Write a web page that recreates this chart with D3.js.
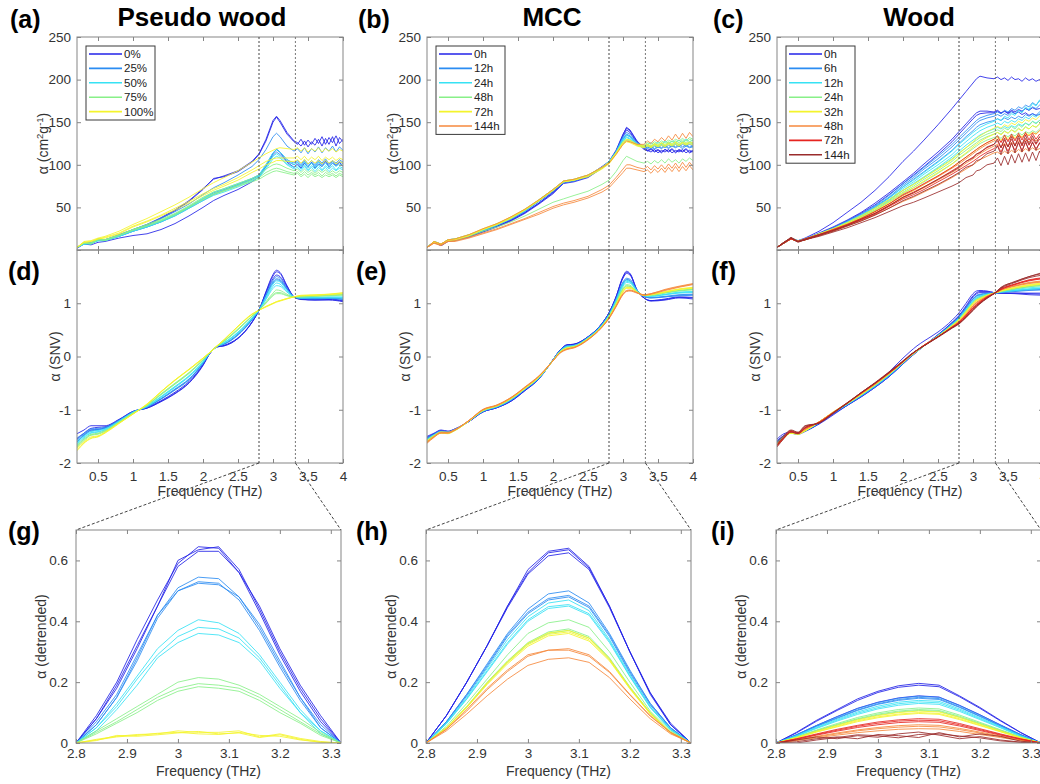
<!DOCTYPE html>
<html>
<head>
<meta charset="utf-8">
<script src="https://cdn.jsdelivr.net/npm/d3@7"></script>
<style>
  body { margin: 0; background: #fff; }
  svg { display: block; }
</style>
</head>
<body>
<svg id="fig" width="1040" height="784"></svg>
<script>
// frequency grids (THz)
var F_TOP = [0.2,0.3,0.4,0.5,0.6,0.8,1.0,1.2,1.4,1.6,1.8,2.0,2.15,2.3,2.5,2.7,2.8,2.9,3.0,3.05,3.1,3.2,3.3,
  3.35,3.4,3.45,3.5,3.55,3.6,3.65,3.7,3.75,3.8,3.85,3.9,3.95,4.0];
var F_MID = [0.2,0.3,0.4,0.5,0.6,0.8,1.0,1.2,1.4,1.6,1.8,2.0,2.1,2.2,2.3,2.5,2.7,2.8,2.9,3.0,3.05,3.1,3.2,3.3,3.4,3.6,3.8,4.0];
var F_BOT = [2.8,2.84,2.88,2.92,2.96,3.0,3.04,3.08,3.12,3.16,3.2,3.24,3.28,3.32];

var pwGroups = ['0%','25%','50%','75%','100%'];
var mccGroups = ['0h','12h','24h','48h','72h','144h'];
var woodGroups = ['0h','6h','12h','24h','32h','48h','72h','144h'];

// absorption coefficient, cm2/g  (3 replicates per group)
var pwTop = [
  [[3,8,7,12,11,17,23,29,37,46,57,71,84,86,92,103,112,128,150,156,150,136,127, 124,130,123,129,124,131,125,133,124,132,126,134,125,130],
   [3,9,8,13,12,18,24,30,38,47,58,72,83,87,93,104,113,130,152,157,152,138,128, 126,122,128,121,127,123,130,122,131,124,133,122,132,127],
   [2,7,6,9,10,14,17,19,24,31,40,50,58,64,71,80,86,98,113,118,115,103,97, 101,96,102,97,103,96,101,98,104,97,102,99,103,98]],
  [[3,8,9,12,12,17,24,30,37,45,54,65,73,79,88,98,106,118,133,137,133,122,116, 119,114,120,113,119,115,121,114,120,116,122,115,121,117],
   [3,7,8,11,12,16,22,27,33,41,50,60,67,71,77,84,88,100,114,118,115,106,102, 105,100,106,101,105,100,106,102,107,101,105,102,106,103],
   [3,8,7,12,11,16,22,27,33,40,49,58,65,70,76,83,87,98,111,115,112,104,100, 103,98,104,99,103,98,104,100,105,99,104,100,104,101]],
  [[3,8,8,12,12,17,23,28,34,42,51,61,68,72,78,84,88,100,114,118,115,106,100, 103,98,103,97,102,97,103,98,102,97,102,98,101,99],
   [3,7,8,11,11,16,23,28,34,41,50,60,66,70,76,82,86,97,110,113,110,101,97, 99,95,100,94,99,95,100,94,99,95,99,94,98,96],
   [3,7,7,11,11,16,22,27,33,40,49,58,64,68,74,81,85,95,107,110,108,100,95, 97,93,98,93,97,92,97,93,97,92,96,93,96,94]],
  [[3,9,8,13,12,18,24,30,36,43,52,62,68,72,78,84,88,95,100,101,100,96,93, 95,91,95,91,94,90,94,91,94,90,93,90,93,91],
   [3,8,8,12,12,17,24,29,35,42,51,60,66,70,76,82,85,91,95,96,95,92,90, 92,88,92,88,91,88,91,87,91,88,90,87,90,88],
   [3,8,7,12,11,17,23,28,34,41,50,59,65,69,75,80,83,88,92,93,92,90,88, 90,86,89,85,89,86,88,85,88,86,88,85,88,86]],
  [[3,10,11,14,16,22,30,37,45,53,62,72,79,85,93,103,108,113,117,119,120,119,118, 120,116,120,115,119,116,120,115,119,116,119,115,118,116],
   [3,9,10,13,15,20,28,34,41,49,57,66,72,77,85,94,99,104,107,108,108,108,108, 110,106,110,105,109,106,110,105,109,106,109,105,108,106],
   [3,9,10,13,14,19,27,33,40,47,55,64,70,75,82,91,95,100,103,105,105,104,104, 106,102,106,101,105,102,105,101,105,102,105,101,104,102]]
];
var mccTop = [
  [[3,10,5,11,12,16,22,28,35,44,55,67,79,81,86,97,103,116,135,144,141,128,120, 117,119,116,118,115,118,116,119,115,118,116,119,115,117],
   [3,9,6,11,12,16,22,28,35,44,55,68,80,82,87,98,104,117,136,143,140,127,119, 116,118,115,117,114,118,115,118,114,117,115,118,114,116],
   [3,10,5,10,11,15,21,27,34,43,54,66,78,80,85,96,102,115,133,141,138,126,118, 117,115,118,114,117,115,118,114,117,115,118,114,117,115]],
  [[3,9,6,12,12,17,23,29,37,46,57,69,80,82,87,97,104,116,133,138,136,126,121, 120,122,119,122,120,123,120,123,121,124,121,123,121,122],
   [3,10,7,12,13,17,23,30,37,46,58,70,80,82,87,97,103,115,131,136,134,125,120, 119,121,118,121,119,122,119,122,120,122,119,122,120,121],
   [3,9,6,11,12,17,23,29,36,45,57,69,79,81,86,96,102,114,130,135,133,124,120, 121,119,122,120,123,120,123,121,124,121,124,122,124,122]],
  [[3,10,7,12,13,18,24,30,38,47,59,71,81,83,88,97,104,115,131,135,133,125,122, 124,126,123,127,124,128,125,128,126,129,126,130,127,129],
   [3,9,6,12,12,17,24,30,37,47,58,70,80,82,87,97,103,114,129,133,131,124,121, 123,121,124,122,125,122,126,123,126,124,127,124,127,125],
   [3,10,7,11,12,17,23,29,37,46,58,70,80,82,87,96,102,114,128,132,130,123,120, 122,120,123,121,124,121,125,122,125,122,126,123,126,124]],
  [[3,10,7,12,13,18,24,31,38,48,59,71,81,83,88,97,103,114,127,130,129,124,123, 126,124,127,125,128,126,129,127,130,128,131,128,132,130],
   [3,9,6,12,12,17,24,30,38,47,58,70,80,82,87,96,102,113,126,129,128,123,122, 124,122,125,123,126,124,127,125,128,126,129,126,130,128],
   [3,9,6,11,11,16,22,27,33,40,48,56,60,64,69,77,82,92,105,110,108,104,102, 104,101,105,102,106,102,107,103,106,102,107,104,108,105]],
  [[3,10,7,12,13,18,25,31,39,48,59,71,81,83,88,97,103,114,127,130,129,124,122, 124,122,125,123,126,123,126,124,127,124,127,125,127,126],
   [3,9,7,12,12,17,24,30,38,47,58,70,80,82,87,96,102,113,125,128,127,123,121, 123,121,124,122,125,122,125,123,126,123,126,124,126,125],
   [3,10,6,11,12,17,24,30,37,47,58,70,80,82,86,95,101,112,124,127,126,122,120, 122,120,123,121,123,121,124,122,124,122,125,123,125,123]],
  [[3,10,7,12,13,18,25,31,39,48,59,71,81,83,88,97,102,112,124,128,127,124,124, 128,125,130,127,132,128,134,129,136,130,137,131,138,133],
   [3,8,6,10,11,15,20,25,31,37,44,51,55,58,63,71,76,85,95,100,100,97,95, 98,94,99,95,100,95,101,96,102,96,103,97,103,98],
   [3,8,5,10,10,14,19,24,30,36,42,49,53,56,61,68,73,82,91,96,96,94,92, 94,90,95,91,96,91,97,92,98,92,98,93,99,94]]
];
var woodTop = [
  [[3,9,14,11,14,22,32,44,56,70,86,104,116,129,147,166,176,186,196,201,204,202,201, 203,200,202,199,203,200,201,198,202,199,201,198,200,198],
   [3,8,13,10,13,20,27,35,44,55,67,80,90,101,115,130,139,148,157,161,163,163,162, 164,161,163,160,163,160,162,159,161,158,160,158,159,157],
   [3,9,13,10,13,19,26,34,43,53,65,78,88,98,112,127,136,145,154,158,160,161,161, 163,160,163,161,164,162,165,163,166,164,167,165,166,165]],
  [[3,9,14,11,13,19,26,34,42,52,64,78,87,97,110,124,132,140,148,152,155,158,160, 162,160,164,162,166,164,168,166,170,168,173,170,175,172],
   [3,8,13,10,13,19,25,33,41,51,62,76,85,95,107,121,129,137,145,149,152,155,157, 159,157,160,158,162,160,164,162,166,164,168,166,170,168],
   [3,9,13,10,12,18,25,32,40,50,61,74,83,92,104,117,125,133,140,144,147,150,152, 154,152,155,153,156,154,157,155,159,157,160,158,162,160]],
  [[3,9,14,10,13,19,25,33,41,50,61,74,82,91,103,116,124,131,138,141,144,148,151, 154,152,157,155,160,158,164,161,168,165,172,169,176,173],
   [3,8,13,10,12,18,24,32,40,49,59,72,80,89,100,112,120,127,134,137,140,144,147, 149,147,151,149,152,150,154,152,156,154,158,156,160,158],
   [3,9,13,10,13,18,24,31,39,47,58,70,78,86,97,109,116,123,129,132,135,139,142, 144,142,145,143,146,144,148,146,149,147,151,149,152,150]],
  [[3,9,14,11,13,19,25,32,40,49,59,70,77,85,96,107,114,120,126,129,132,136,139, 141,139,143,141,145,142,147,144,149,146,151,148,152,150],
   [3,8,13,10,12,18,24,31,39,47,57,68,75,83,93,104,111,117,123,126,129,133,136, 138,136,140,137,141,139,143,140,145,142,146,144,148,146],
   [3,9,13,10,12,18,24,30,38,46,56,66,73,80,90,101,107,113,119,122,125,129,132, 134,131,135,133,136,134,138,135,139,137,140,138,142,140]],
  [[3,9,14,10,13,19,25,32,40,49,59,70,77,85,95,106,113,120,127,131,134,139,143, 145,143,147,145,149,147,151,149,153,151,155,153,157,155],
   [3,8,13,10,12,18,24,31,38,47,56,67,73,81,91,101,108,114,121,124,127,132,136, 138,135,139,137,141,138,142,140,144,142,146,144,148,146],
   [3,9,13,10,12,18,23,30,37,45,54,64,70,77,87,97,103,109,115,118,121,126,130, 132,129,133,131,134,132,135,133,137,135,138,136,140,138]],
  [[3,9,14,10,13,18,24,30,37,45,54,64,70,77,86,96,101,107,113,116,119,124,128, 130,127,131,129,133,130,134,132,136,134,138,136,140,138],
   [3,8,13,10,12,17,23,29,36,43,52,61,67,73,82,91,96,102,107,110,113,118,122, 124,121,125,122,126,124,128,125,129,127,131,128,132,130],
   [3,9,13,10,12,17,22,28,34,41,49,57,62,68,76,85,90,95,100,103,106,110,114, 115,112,116,113,117,114,118,115,119,116,120,117,119,118]],
  [[3,9,14,10,13,18,24,30,37,45,54,65,71,78,87,97,103,109,115,118,121,126,130, 134,126,135,127,136,128,137,129,138,129,137,130,136,131],
   [3,8,13,10,12,18,23,29,36,43,52,62,68,74,83,93,98,104,109,112,115,120,124, 128,120,129,121,130,122,131,122,131,123,130,124,130,125],
   [3,9,13,10,12,17,23,29,35,42,51,60,65,71,80,89,94,99,104,107,110,115,119, 123,115,124,116,125,117,126,117,126,118,126,119,125,120]],
  [[3,9,15,10,13,18,23,29,36,43,52,62,67,74,83,92,97,104,108,113,114,121,124, 130,120,131,121,133,122,134,123,135,124,134,125,133,126],
   [3,8,14,10,12,17,22,28,34,41,49,58,63,69,77,86,91,97,100,105,106,113,116, 122,112,124,113,126,114,127,115,128,116,127,117,126,118],
   [3,9,14,9,12,16,21,26,32,38,45,52,56,61,68,75,79,85,88,93,94,100,102, 108,99,110,100,112,102,113,103,114,104,115,105,116,106]]
];

// SNV-normalised spectra
var pwMid = [
  [[-1.45,-1.38,-1.3,-1.3,-1.3,-1.18,-1.03,-0.97,-0.85,-0.7,-0.5,-0.17,0.06,0.18,0.2,0.34,0.65,0.87,1.22,1.54,1.62,1.58,1.33,1.12,1.07,1.06,1.06,1.03],
   [-1.55,-1.44,-1.35,-1.33,-1.32,-1.19,-1.03,-0.97,-0.84,-0.69,-0.49,-0.16,0.06,0.18,0.2,0.34,0.64,0.87,1.21,1.51,1.59,1.56,1.32,1.12,1.08,1.06,1.07,1.04],
   [-1.6,-1.48,-1.38,-1.37,-1.34,-1.2,-1.04,-0.96,-0.83,-0.67,-0.47,-0.15,0.06,0.18,0.21,0.35,0.64,0.87,1.19,1.46,1.53,1.5,1.3,1.12,1.08,1.07,1.08,1.05]],
  [[-1.53,-1.44,-1.36,-1.35,-1.33,-1.2,-1.04,-0.95,-0.8,-0.63,-0.44,-0.13,0.07,0.19,0.23,0.4,0.69,0.87,1.16,1.43,1.5,1.47,1.28,1.12,1.09,1.08,1.09,1.07],
   [-1.57,-1.46,-1.38,-1.37,-1.34,-1.2,-1.04,-0.95,-0.8,-0.62,-0.43,-0.12,0.07,0.19,0.23,0.41,0.69,0.87,1.15,1.4,1.46,1.44,1.27,1.12,1.09,1.09,1.09,1.08],
   [-1.6,-1.48,-1.4,-1.38,-1.35,-1.21,-1.05,-0.94,-0.79,-0.61,-0.42,-0.12,0.07,0.19,0.24,0.42,0.7,0.87,1.14,1.38,1.44,1.42,1.26,1.12,1.1,1.09,1.1,1.08]],
  [[-1.59,-1.49,-1.41,-1.39,-1.36,-1.21,-1.05,-0.94,-0.77,-0.58,-0.38,-0.11,0.07,0.19,0.25,0.44,0.71,0.87,1.11,1.36,1.42,1.4,1.24,1.12,1.1,1.1,1.1,1.1],
   [-1.62,-1.51,-1.43,-1.41,-1.37,-1.22,-1.05,-0.93,-0.76,-0.57,-0.37,-0.1,0.07,0.19,0.26,0.45,0.72,0.87,1.09,1.32,1.38,1.36,1.22,1.12,1.1,1.11,1.11,1.11],
   [-1.64,-1.53,-1.44,-1.42,-1.38,-1.22,-1.05,-0.93,-0.75,-0.56,-0.36,-0.09,0.07,0.19,0.26,0.46,0.72,0.87,1.07,1.28,1.33,1.32,1.21,1.12,1.11,1.11,1.12,1.12]],
  [[-1.66,-1.55,-1.46,-1.44,-1.39,-1.23,-1.06,-0.92,-0.72,-0.52,-0.32,-0.07,0.07,0.19,0.28,0.5,0.75,0.87,1.03,1.19,1.25,1.24,1.17,1.12,1.12,1.13,1.14,1.15],
   [-1.68,-1.56,-1.47,-1.45,-1.4,-1.24,-1.06,-0.92,-0.71,-0.51,-0.31,-0.06,0.07,0.19,0.29,0.51,0.76,0.87,1.01,1.16,1.2,1.2,1.15,1.12,1.12,1.13,1.15,1.16],
   [-1.7,-1.58,-1.48,-1.46,-1.41,-1.24,-1.07,-0.91,-0.7,-0.5,-0.3,-0.06,0.07,0.19,0.29,0.52,0.76,0.87,1.0,1.14,1.18,1.18,1.14,1.12,1.13,1.14,1.15,1.17]],
  [[-1.75,-1.62,-1.53,-1.5,-1.43,-1.25,-1.08,-0.9,-0.66,-0.44,-0.24,-0.03,0.08,0.2,0.31,0.57,0.79,0.87,0.94,1.0,1.03,1.05,1.09,1.12,1.14,1.15,1.16,1.18],
   [-1.72,-1.6,-1.51,-1.49,-1.42,-1.25,-1.08,-0.9,-0.67,-0.45,-0.25,-0.04,0.08,0.2,0.31,0.56,0.79,0.87,0.94,1.0,1.03,1.05,1.09,1.12,1.15,1.16,1.17,1.19],
   [-1.77,-1.63,-1.54,-1.51,-1.44,-1.26,-1.08,-0.89,-0.66,-0.44,-0.24,-0.03,0.08,0.2,0.32,0.57,0.8,0.87,0.93,0.99,1.02,1.04,1.08,1.12,1.14,1.15,1.17,1.2]]
];
var mccMid = [
  [[-1.5,-1.44,-1.38,-1.4,-1.36,-1.22,-1.04,-0.96,-0.84,-0.64,-0.42,-0.06,0.12,0.22,0.23,0.37,0.62,0.82,1.12,1.5,1.6,1.56,1.25,1.1,1.04,1.06,1.1,1.08],
   [-1.52,-1.45,-1.39,-1.41,-1.36,-1.22,-1.04,-0.96,-0.84,-0.64,-0.42,-0.06,0.12,0.22,0.23,0.37,0.62,0.82,1.12,1.49,1.58,1.55,1.25,1.1,1.05,1.07,1.11,1.1],
   [-1.54,-1.46,-1.4,-1.42,-1.37,-1.22,-1.04,-0.96,-0.83,-0.63,-0.41,-0.06,0.12,0.21,0.23,0.37,0.62,0.82,1.11,1.47,1.56,1.53,1.24,1.1,1.05,1.08,1.12,1.11]],
  [[-1.53,-1.46,-1.4,-1.41,-1.37,-1.21,-1.03,-0.95,-0.82,-0.62,-0.41,-0.07,0.11,0.2,0.21,0.36,0.61,0.8,1.08,1.4,1.47,1.45,1.25,1.13,1.1,1.12,1.14,1.15],
   [-1.55,-1.47,-1.41,-1.42,-1.37,-1.21,-1.03,-0.95,-0.82,-0.62,-0.41,-0.07,0.11,0.2,0.21,0.36,0.6,0.79,1.07,1.38,1.45,1.43,1.24,1.13,1.1,1.12,1.15,1.16],
   [-1.56,-1.48,-1.41,-1.42,-1.38,-1.21,-1.03,-0.94,-0.81,-0.61,-0.4,-0.07,0.1,0.19,0.2,0.35,0.6,0.79,1.06,1.36,1.44,1.42,1.24,1.13,1.11,1.13,1.16,1.17]],
  [[-1.55,-1.47,-1.41,-1.42,-1.37,-1.21,-1.02,-0.94,-0.81,-0.61,-0.4,-0.07,0.1,0.19,0.2,0.35,0.59,0.78,1.05,1.36,1.43,1.41,1.24,1.14,1.13,1.16,1.19,1.2],
   [-1.57,-1.48,-1.42,-1.43,-1.38,-1.21,-1.02,-0.94,-0.8,-0.6,-0.4,-0.07,0.1,0.18,0.2,0.35,0.59,0.78,1.04,1.34,1.41,1.4,1.23,1.14,1.13,1.16,1.2,1.21],
   [-1.58,-1.49,-1.42,-1.43,-1.38,-1.21,-1.02,-0.93,-0.8,-0.6,-0.39,-0.07,0.09,0.18,0.19,0.34,0.58,0.77,1.03,1.32,1.39,1.38,1.23,1.14,1.14,1.17,1.21,1.22]],
  [[-1.57,-1.48,-1.42,-1.43,-1.38,-1.21,-1.02,-0.93,-0.8,-0.6,-0.39,-0.07,0.09,0.17,0.19,0.34,0.58,0.76,1.01,1.29,1.35,1.34,1.22,1.15,1.15,1.19,1.23,1.25],
   [-1.59,-1.49,-1.43,-1.44,-1.38,-1.21,-1.01,-0.93,-0.79,-0.6,-0.39,-0.07,0.09,0.17,0.19,0.34,0.57,0.75,1.0,1.27,1.33,1.32,1.22,1.15,1.15,1.2,1.24,1.26],
   [-1.6,-1.5,-1.43,-1.44,-1.39,-1.21,-1.01,-0.92,-0.79,-0.59,-0.38,-0.07,0.08,0.16,0.18,0.33,0.57,0.75,0.99,1.26,1.32,1.31,1.21,1.15,1.16,1.2,1.24,1.27]],
  [[-1.58,-1.49,-1.42,-1.43,-1.38,-1.21,-1.01,-0.93,-0.79,-0.6,-0.39,-0.08,0.08,0.16,0.18,0.33,0.57,0.74,0.98,1.24,1.3,1.3,1.21,1.15,1.16,1.21,1.26,1.28],
   [-1.6,-1.5,-1.43,-1.44,-1.38,-1.21,-1.01,-0.92,-0.79,-0.6,-0.38,-0.08,0.08,0.16,0.18,0.33,0.56,0.74,0.97,1.22,1.29,1.29,1.21,1.15,1.16,1.21,1.26,1.29],
   [-1.61,-1.51,-1.44,-1.45,-1.39,-1.21,-1.0,-0.92,-0.78,-0.59,-0.38,-0.08,0.07,0.15,0.17,0.32,0.56,0.73,0.96,1.21,1.28,1.28,1.2,1.15,1.17,1.22,1.27,1.3]],
  [[-1.6,-1.5,-1.42,-1.42,-1.37,-1.2,-1.0,-0.92,-0.78,-0.58,-0.37,-0.08,0.07,0.14,0.17,0.32,0.56,0.72,0.95,1.18,1.24,1.25,1.2,1.15,1.17,1.24,1.3,1.35],
   [-1.62,-1.51,-1.43,-1.43,-1.38,-1.2,-1.0,-0.91,-0.77,-0.58,-0.37,-0.08,0.07,0.14,0.17,0.32,0.55,0.72,0.94,1.17,1.23,1.24,1.2,1.16,1.18,1.25,1.31,1.36],
   [-1.63,-1.52,-1.44,-1.44,-1.38,-1.2,-0.99,-0.91,-0.77,-0.57,-0.36,-0.08,0.06,0.13,0.16,0.31,0.55,0.71,0.93,1.16,1.22,1.23,1.19,1.16,1.18,1.26,1.32,1.37]]
];
var woodMid = [
  [[-1.55,-1.45,-1.42,-1.44,-1.4,-1.27,-1.1,-0.92,-0.74,-0.53,-0.29,-0.03,0.09,0.2,0.29,0.46,0.68,0.82,1.0,1.18,1.23,1.24,1.23,1.2,1.19,1.18,1.16,1.15],
   [-1.58,-1.48,-1.43,-1.45,-1.4,-1.26,-1.08,-0.92,-0.76,-0.58,-0.38,-0.14,-0.02,0.09,0.2,0.41,0.64,0.77,0.95,1.14,1.2,1.22,1.22,1.2,1.19,1.19,1.18,1.17],
   [-1.6,-1.49,-1.44,-1.46,-1.41,-1.26,-1.08,-0.92,-0.76,-0.58,-0.38,-0.14,-0.02,0.09,0.2,0.41,0.63,0.76,0.93,1.12,1.18,1.2,1.2,1.19,1.19,1.19,1.19,1.19]],
  [[-1.6,-1.49,-1.43,-1.45,-1.4,-1.25,-1.07,-0.91,-0.75,-0.57,-0.37,-0.13,-0.01,0.1,0.2,0.4,0.62,0.75,0.92,1.09,1.15,1.17,1.19,1.19,1.21,1.23,1.25,1.26],
   [-1.61,-1.5,-1.43,-1.45,-1.4,-1.25,-1.07,-0.91,-0.74,-0.56,-0.36,-0.13,-0.01,0.1,0.2,0.4,0.61,0.74,0.91,1.08,1.14,1.16,1.18,1.19,1.21,1.24,1.26,1.28],
   [-1.62,-1.5,-1.44,-1.46,-1.4,-1.25,-1.07,-0.9,-0.74,-0.56,-0.36,-0.12,-0.01,0.1,0.2,0.39,0.61,0.73,0.9,1.07,1.13,1.15,1.18,1.19,1.2,1.22,1.24,1.25]],
  [[-1.62,-1.5,-1.43,-1.45,-1.39,-1.24,-1.06,-0.9,-0.73,-0.55,-0.35,-0.12,0.0,0.1,0.2,0.39,0.6,0.72,0.88,1.05,1.11,1.14,1.17,1.19,1.22,1.26,1.29,1.31],
   [-1.63,-1.51,-1.43,-1.45,-1.39,-1.24,-1.06,-0.9,-0.73,-0.55,-0.35,-0.12,0.0,0.1,0.2,0.39,0.6,0.72,0.88,1.04,1.1,1.13,1.17,1.19,1.21,1.24,1.27,1.29],
   [-1.64,-1.51,-1.44,-1.46,-1.39,-1.24,-1.06,-0.89,-0.72,-0.54,-0.34,-0.12,0.0,0.1,0.2,0.38,0.59,0.71,0.87,1.03,1.09,1.12,1.16,1.19,1.21,1.24,1.26,1.28]],
  [[-1.64,-1.51,-1.43,-1.45,-1.39,-1.24,-1.06,-0.89,-0.72,-0.54,-0.34,-0.11,0.0,0.1,0.2,0.38,0.59,0.7,0.86,1.02,1.08,1.11,1.16,1.19,1.22,1.27,1.31,1.34],
   [-1.65,-1.52,-1.44,-1.45,-1.39,-1.23,-1.05,-0.89,-0.72,-0.54,-0.34,-0.11,0.0,0.1,0.2,0.38,0.58,0.7,0.85,1.01,1.07,1.1,1.15,1.19,1.22,1.27,1.31,1.33],
   [-1.66,-1.52,-1.44,-1.46,-1.4,-1.23,-1.05,-0.88,-0.71,-0.53,-0.33,-0.11,0.0,0.1,0.2,0.38,0.58,0.69,0.84,1.0,1.06,1.09,1.15,1.19,1.23,1.28,1.32,1.35]],
  [[-1.64,-1.51,-1.43,-1.45,-1.39,-1.23,-1.05,-0.89,-0.72,-0.53,-0.33,-0.11,0.01,0.11,0.21,0.38,0.58,0.69,0.84,1.0,1.06,1.09,1.15,1.19,1.23,1.29,1.33,1.36],
   [-1.65,-1.52,-1.44,-1.46,-1.39,-1.23,-1.05,-0.88,-0.71,-0.53,-0.33,-0.11,0.01,0.11,0.21,0.38,0.57,0.68,0.83,0.99,1.05,1.08,1.14,1.19,1.23,1.29,1.34,1.37],
   [-1.66,-1.53,-1.44,-1.46,-1.4,-1.23,-1.04,-0.88,-0.71,-0.52,-0.32,-0.1,0.01,0.11,0.21,0.37,0.57,0.68,0.82,0.98,1.04,1.07,1.14,1.19,1.24,1.3,1.35,1.38]],
  [[-1.66,-1.52,-1.42,-1.45,-1.37,-1.23,-1.05,-0.88,-0.7,-0.52,-0.32,-0.1,0.01,0.11,0.21,0.37,0.56,0.66,0.8,0.96,1.02,1.06,1.13,1.19,1.25,1.32,1.37,1.4],
   [-1.67,-1.53,-1.42,-1.45,-1.37,-1.23,-1.05,-0.88,-0.7,-0.52,-0.32,-0.1,0.01,0.11,0.21,0.37,0.56,0.66,0.79,0.95,1.01,1.05,1.13,1.19,1.25,1.33,1.38,1.41],
   [-1.68,-1.53,-1.41,-1.45,-1.36,-1.23,-1.05,-0.87,-0.69,-0.51,-0.31,-0.1,0.02,0.12,0.21,0.37,0.55,0.65,0.78,0.94,1.0,1.04,1.12,1.18,1.25,1.33,1.39,1.42]],
  [[-1.66,-1.52,-1.41,-1.44,-1.35,-1.24,-1.06,-0.88,-0.69,-0.51,-0.31,-0.1,0.02,0.12,0.21,0.37,0.55,0.64,0.77,0.92,0.98,1.03,1.12,1.18,1.26,1.35,1.42,1.46],
   [-1.67,-1.52,-1.41,-1.44,-1.34,-1.24,-1.06,-0.88,-0.69,-0.5,-0.31,-0.1,0.02,0.12,0.21,0.37,0.55,0.64,0.77,0.91,0.97,1.02,1.11,1.18,1.26,1.36,1.43,1.47],
   [-1.68,-1.53,-1.41,-1.44,-1.34,-1.24,-1.06,-0.88,-0.69,-0.5,-0.3,-0.09,0.02,0.12,0.21,0.37,0.54,0.63,0.76,0.9,0.96,1.01,1.11,1.18,1.27,1.36,1.44,1.48]],
  [[-1.62,-1.48,-1.38,-1.42,-1.3,-1.25,-1.07,-0.88,-0.68,-0.5,-0.3,-0.09,0.02,0.12,0.2,0.37,0.54,0.62,0.74,0.88,0.95,1.0,1.1,1.18,1.3,1.4,1.5,1.56],
   [-1.66,-1.5,-1.39,-1.43,-1.31,-1.25,-1.07,-0.88,-0.68,-0.5,-0.3,-0.09,0.02,0.12,0.2,0.37,0.54,0.62,0.74,0.88,0.94,1.0,1.1,1.18,1.28,1.39,1.48,1.53],
   [-1.7,-1.54,-1.42,-1.45,-1.33,-1.25,-1.06,-0.87,-0.68,-0.49,-0.29,-0.08,0.03,0.12,0.2,0.36,0.53,0.61,0.73,0.86,0.93,0.99,1.09,1.18,1.29,1.41,1.5,1.58]]
];

// detrended SNV, 2.8-3.32 THz
var pwBot = [
  [[0,0.09,0.2,0.34,0.47,0.59,0.645,0.64,0.56,0.43,0.29,0.17,0.07,0],
   [0,0.08,0.19,0.32,0.45,0.6,0.635,0.645,0.57,0.44,0.3,0.18,0.08,0],
   [0,0.08,0.18,0.31,0.45,0.58,0.63,0.63,0.56,0.45,0.31,0.19,0.09,0]],
  [[0,0.06,0.15,0.28,0.42,0.51,0.545,0.54,0.48,0.38,0.26,0.15,0.06,0],
   [0,0.07,0.16,0.29,0.42,0.5,0.53,0.525,0.47,0.37,0.25,0.14,0.05,0],
   [0,0.06,0.15,0.27,0.41,0.5,0.525,0.52,0.48,0.39,0.27,0.15,0.05,0]],
  [[0,0.05,0.13,0.22,0.31,0.37,0.405,0.395,0.36,0.29,0.2,0.11,0.04,0],
   [0,0.05,0.12,0.21,0.29,0.35,0.38,0.375,0.345,0.28,0.19,0.1,0.04,0],
   [0,0.04,0.11,0.19,0.28,0.33,0.36,0.355,0.33,0.27,0.18,0.1,0.03,0]],
  [[0,0.04,0.08,0.12,0.16,0.2,0.215,0.21,0.19,0.16,0.12,0.08,0.035,0],
   [0,0.035,0.07,0.11,0.15,0.18,0.195,0.19,0.18,0.15,0.11,0.07,0.03,0],
   [0,0.03,0.065,0.1,0.14,0.17,0.185,0.18,0.17,0.14,0.1,0.065,0.025,0]],
  [[0,0.012,0.022,0.028,0.03,0.04,0.035,0.035,0.04,0.02,0.03,0.015,0.005,0],
   [0,0.01,0.02,0.025,0.032,0.035,0.03,0.028,0.035,0.025,0.022,0.01,0.003,0],
   [0,0.008,0.025,0.022,0.027,0.033,0.038,0.03,0.033,0.018,0.027,0.012,0.002,0]]
];
var mccBot = [
  [[0,0.09,0.2,0.32,0.45,0.57,0.63,0.64,0.58,0.45,0.3,0.16,0.06,0],
   [0,0.09,0.2,0.32,0.45,0.56,0.625,0.635,0.575,0.45,0.3,0.165,0.06,0],
   [0,0.09,0.2,0.32,0.445,0.555,0.615,0.625,0.57,0.445,0.3,0.165,0.065,0]],
  [[0,0.07,0.16,0.26,0.36,0.44,0.49,0.5,0.46,0.36,0.24,0.13,0.05,0],
   [0,0.07,0.16,0.255,0.355,0.43,0.475,0.485,0.45,0.355,0.235,0.13,0.05,0],
   [0,0.068,0.155,0.25,0.35,0.425,0.47,0.48,0.445,0.35,0.23,0.125,0.048,0]],
  [[0,0.066,0.15,0.245,0.34,0.415,0.46,0.47,0.435,0.34,0.225,0.12,0.045,0],
   [0,0.064,0.146,0.238,0.33,0.405,0.448,0.455,0.425,0.335,0.22,0.118,0.044,0],
   [0,0.063,0.144,0.234,0.325,0.4,0.442,0.45,0.42,0.33,0.218,0.116,0.043,0]],
  [[0,0.055,0.13,0.21,0.29,0.36,0.395,0.405,0.38,0.3,0.2,0.105,0.04,0],
   [0,0.05,0.12,0.2,0.27,0.33,0.365,0.375,0.35,0.28,0.185,0.1,0.036,0],
   [0,0.05,0.118,0.196,0.266,0.326,0.36,0.37,0.345,0.276,0.182,0.098,0.035,0]],
  [[0,0.05,0.12,0.198,0.268,0.328,0.362,0.37,0.345,0.277,0.183,0.099,0.035,0],
   [0,0.049,0.118,0.195,0.264,0.323,0.357,0.365,0.34,0.273,0.18,0.097,0.034,0],
   [0,0.048,0.116,0.192,0.26,0.318,0.352,0.36,0.335,0.27,0.178,0.095,0.033,0]],
  [[0,0.045,0.11,0.18,0.24,0.29,0.305,0.31,0.29,0.235,0.16,0.09,0.035,0],
   [0,0.045,0.105,0.175,0.235,0.285,0.305,0.305,0.285,0.232,0.158,0.088,0.034,0],
   [0,0.04,0.095,0.155,0.21,0.255,0.275,0.28,0.265,0.215,0.145,0.08,0.03,0]]
];
var woodBot = [
  [[0,0.035,0.075,0.11,0.145,0.17,0.188,0.196,0.19,0.155,0.117,0.075,0.035,0],
   [0,0.033,0.072,0.107,0.14,0.166,0.183,0.19,0.185,0.152,0.114,0.073,0.034,0],
   [0,0.027,0.058,0.087,0.114,0.134,0.148,0.155,0.151,0.124,0.093,0.06,0.028,0]],
  [[0,0.027,0.058,0.086,0.113,0.133,0.147,0.154,0.15,0.123,0.092,0.059,0.027,0],
   [0,0.026,0.056,0.083,0.109,0.129,0.143,0.15,0.146,0.119,0.089,0.057,0.026,0],
   [0,0.025,0.055,0.081,0.107,0.127,0.14,0.147,0.143,0.117,0.087,0.056,0.025,0]],
  [[0,0.024,0.052,0.078,0.102,0.121,0.134,0.14,0.137,0.112,0.083,0.054,0.024,0],
   [0,0.023,0.05,0.075,0.098,0.116,0.129,0.135,0.132,0.108,0.08,0.052,0.023,0],
   [0,0.022,0.048,0.072,0.094,0.112,0.124,0.13,0.127,0.104,0.077,0.05,0.022,0]],
  [[0,0.02,0.043,0.064,0.084,0.099,0.11,0.115,0.112,0.092,0.068,0.044,0.02,0],
   [0,0.019,0.041,0.061,0.08,0.095,0.105,0.11,0.107,0.088,0.065,0.042,0.019,0],
   [0,0.018,0.04,0.059,0.078,0.092,0.102,0.107,0.104,0.085,0.063,0.041,0.018,0]],
  [[0,0.018,0.039,0.058,0.076,0.09,0.1,0.105,0.102,0.084,0.062,0.04,0.018,0],
   [0,0.017,0.037,0.055,0.073,0.086,0.095,0.1,0.097,0.08,0.059,0.038,0.017,0],
   [0,0.016,0.036,0.053,0.07,0.083,0.092,0.097,0.094,0.077,0.057,0.037,0.016,0]],
  [[0,0.01,0.022,0.033,0.043,0.051,0.057,0.06,0.058,0.048,0.036,0.023,0.01,0],
   [0,0.009,0.02,0.03,0.04,0.047,0.052,0.055,0.053,0.044,0.033,0.021,0.009,0],
   [0,0.008,0.017,0.026,0.034,0.04,0.045,0.047,0.046,0.038,0.028,0.018,0.008,0]],
  [[0,0.014,0.03,0.045,0.058,0.069,0.076,0.08,0.078,0.064,0.047,0.03,0.014,0],
   [0,0.013,0.028,0.042,0.055,0.065,0.072,0.075,0.073,0.06,0.044,0.028,0.013,0],
   [0,0.012,0.026,0.039,0.051,0.06,0.067,0.07,0.068,0.056,0.041,0.026,0.012,0]],
  [[0,0.004,0.014,0.02,0.014,0.028,0.024,0.018,0.034,0.02,0.03,0.022,0.006,0],
   [0,0.01,0.02,0.014,0.024,0.019,0.03,0.036,0.026,0.014,0.021,0.01,0.003,0],
   [0,0.0,0.01,0.018,0.027,0.024,0.017,0.028,0.03,0.023,0.017,0.007,0.002,0]]
];

var X_TICKS_FULL = [0.5,1,1.5,2,2.5,3,3.5,4];
var X_TICKS_ZOOM = [2.8,2.9,3,3.1,3.2,3.3];
var Y_TICKS_TOP = [0,50,100,150,200,250];
var Y_TICKS_MID = [-2,-1,0,1,2];
var Y_TICKS_BOT = [0,0.2,0.4,0.6];
var ZOOM_BAND = [2.8, 3.32];

// jet-like colours
var C_BLUE = '#2222e8', C_AZURE = '#2b8cf2', C_CYAN = '#37e2f4', C_GREEN = '#88f088',
    C_YELLOW = '#f4f42c', C_ORANGE = '#f6883c', C_RED = '#e62420', C_BROWN = '#9a2c2c';
var pwColors = [C_BLUE, C_AZURE, C_CYAN, C_GREEN, C_YELLOW];
var mccColors = [C_BLUE, C_AZURE, C_CYAN, C_GREEN, C_YELLOW, C_ORANGE];
var woodColors = [C_BLUE, C_AZURE, C_CYAN, C_GREEN, C_YELLOW, C_ORANGE, C_RED, C_BROWN];

var FONT = "Arial, 'Liberation Sans', Helvetica, sans-serif";
var AXIS_GRAY = '#858585', TEXT_GRAY = '#333333';

var svg = d3.select('#fig');
var COL_X = [77, 427, 777];
var PW = 266, PH = 213;
var TOP_Y = 37, MID_Y = 250, BOT_Y = 530;

var clipCount = 0;
function makePanel(x0, y0, w, h, xd, yd) {
  var x = d3.scaleLinear().domain(xd).range([x0, x0 + w]);
  var y = d3.scaleLinear().domain(yd).range([y0 + h, y0]);
  var id = 'clip' + (clipCount++);
  svg.append('clipPath').attr('id', id)
    .append('rect').attr('x', x0).attr('y', y0).attr('width', w).attr('height', h);
  var plot = svg.append('g').attr('clip-path', 'url(#' + id + ')');
  return { x: x, y: y, plot: plot, x0: x0, y0: y0, w: w, h: h };
}

function drawLines(p, xs, groups, colors, curve) {
  var line = d3.line()
    .defined(function(d, i) { return i < xs.length; })
    .x(function(d, i) { return p.x(xs[i]); })
    .y(function(d) { return p.y(d); })
    .curve(curve);
  groups.forEach(function(reps, gi) {
    reps.forEach(function(vals) {
      p.plot.append('path')
        .attr('d', line(vals))
        .attr('fill', 'none')
        .attr('stroke', colors[gi])
        .attr('stroke-width', 1)
        .attr('stroke-opacity', 0.85);
    });
  });
}

function numFmt(d) { return String(+d.toFixed(2)); }

function drawAxes(p, o) {
  var g = svg.append('g');
  var none = function() { return ''; };
  g.append('g').attr('transform', 'translate(0,' + (p.y0 + p.h) + ')')
    .call(d3.axisBottom(p.x).tickValues(o.xTicks).tickSizeInner(-4).tickSizeOuter(0)
      .tickPadding(o.xPad || 0).tickFormat(o.xLabels ? numFmt : none));
  g.append('g').attr('transform', 'translate(0,' + p.y0 + ')')
    .call(d3.axisTop(p.x).tickValues(o.xTicks).tickSizeInner(-4).tickSizeOuter(0).tickFormat(none));
  g.append('g').attr('transform', 'translate(' + p.x0 + ',0)')
    .call(d3.axisLeft(p.y).tickValues(o.yTicks).tickSizeInner(-4).tickSizeOuter(0)
      .tickPadding(o.yPad || 6).tickFormat(o.yFmt));
  g.append('g').attr('transform', 'translate(' + (p.x0 + p.w) + ',0)')
    .call(d3.axisRight(p.y).tickValues(o.yTicks).tickSizeInner(-4).tickSizeOuter(0).tickFormat(none));
  g.selectAll('.domain').remove();
  g.selectAll('.tick line').attr('stroke', AXIS_GRAY);
  g.selectAll('.tick text').attr('fill', TEXT_GRAY)
    .style('font-family', FONT).style('font-size', '13.5px');
  g.append('rect')
    .attr('x', p.x0).attr('y', p.y0).attr('width', p.w).attr('height', p.h)
    .attr('fill', 'none').attr('stroke', AXIS_GRAY).attr('stroke-width', 1);
}

function yLabel(x, y, parts) {
  var t = svg.append('text')
    .attr('transform', 'translate(' + x + ',' + y + ') rotate(-90)')
    .attr('text-anchor', 'middle')
    .attr('fill', TEXT_GRAY)
    .style('font-family', FONT).style('font-size', '14px');
  parts.forEach(function(s) {
    var ts = t.append('tspan').text(s[0]);
    if (s[1]) ts.attr('dy', s[1]);
    if (s[2]) ts.style('font-size', s[2]);
  });
}

function xLabel(cx, y) {
  svg.append('text').attr('x', cx).attr('y', y)
    .attr('text-anchor', 'middle').attr('fill', TEXT_GRAY)
    .style('font-family', FONT).style('font-size', '14px')
    .text('Frequency (THz)');
}

function legend(x, y, names, colors) {
  var rowH = 14.4, w = 69;
  var g = svg.append('g').attr('transform', 'translate(' + x + ',' + y + ')');
  g.append('rect').attr('width', w).attr('height', names.length * rowH + 2)
    .attr('fill', '#fff').attr('stroke', '#3a3a3a').attr('stroke-width', 1);
  names.forEach(function(n, i) {
    var cy = 8 + i * rowH;
    g.append('line').attr('x1', 3).attr('x2', 36).attr('y1', cy).attr('y2', cy)
      .attr('stroke', colors[i]).attr('stroke-width', 1.6);
    g.append('text').attr('x', 38).attr('y', cy + 4).text(n)
      .attr('fill', '#222').style('font-family', FONT).style('font-size', '11.5px');
  });
}

function bold(x, y, s, size) {
  svg.append('text').attr('x', x).attr('y', y).text(s)
    .attr('fill', '#000').style('font-family', FONT)
    .style('font-weight', 'bold').style('font-size', size);
}

var columns = [
  { title: 'Pseudo wood', tx: 202, letters: ['(a)', '(d)', '(g)'], groups: pwGroups, colors: pwColors,
    top: pwTop, mid: pwMid, bot: pwBot },
  { title: 'MCC', tx: 552, letters: ['(b)', '(e)', '(h)'], groups: mccGroups, colors: mccColors,
    top: mccTop, mid: mccMid, bot: mccBot },
  { title: 'Wood', tx: 919, letters: ['(c)', '(f)', '(i)'], groups: woodGroups, colors: woodColors,
    top: woodTop, mid: woodMid, bot: woodBot }
];

svg.append('rect').attr('width', 1040).attr('height', 784).attr('fill', '#fff');

columns.forEach(function(col, ci) {
  var x0 = COL_X[ci];
  var bx0 = x0 - 1, bw = 265;

  var pTop = makePanel(x0, TOP_Y, PW, PH, [0.2, 4], [0, 250]);
  drawLines(pTop, F_TOP, col.top, col.colors, d3.curveLinear);
  var pMid = makePanel(x0, MID_Y, PW, PH, [0.2, 4], [-2, 2]);
  drawLines(pMid, F_MID, col.mid, col.colors, d3.curveMonotoneX);
  var pBot = makePanel(bx0, BOT_Y, bw, PH, [2.8, 3.32], [0, 0.7]);
  drawLines(pBot, F_BOT, col.bot, col.colors, d3.curveLinear);

  drawAxes(pTop, { xTicks: X_TICKS_FULL, yTicks: Y_TICKS_TOP, xLabels: false,
    yFmt: function(d) { return d === 0 ? '' : numFmt(d); } });
  drawAxes(pMid, { xTicks: X_TICKS_FULL, yTicks: Y_TICKS_MID, xLabels: true, xPad: 8,
    yFmt: function(d) { return d === 2 ? '' : numFmt(d); } });
  drawAxes(pBot, { xTicks: X_TICKS_ZOOM, yTicks: Y_TICKS_BOT, xLabels: true, xPad: 5, yPad: 8,
    yFmt: numFmt });

  // zoom band markers
  ZOOM_BAND.forEach(function(f, k) {
    svg.append('line')
      .attr('x1', pTop.x(f)).attr('x2', pTop.x(f))
      .attr('y1', TOP_Y).attr('y2', MID_Y + PH)
      .attr('stroke', k === 0 ? '#444' : '#777').attr('stroke-width', 1)
      .attr('stroke-dasharray', '2,2');
  });
  svg.append('line')
    .attr('x1', pMid.x(ZOOM_BAND[0])).attr('y1', MID_Y + PH)
    .attr('x2', pBot.x(ZOOM_BAND[0])).attr('y2', BOT_Y)
    .attr('stroke', '#444').attr('stroke-dasharray', '3,2');
  svg.append('line')
    .attr('x1', pMid.x(ZOOM_BAND[1])).attr('y1', MID_Y + PH)
    .attr('x2', pBot.x(ZOOM_BAND[1])).attr('y2', BOT_Y)
    .attr('stroke', '#444').attr('stroke-dasharray', '3,2');

  legend(x0 + 9, TOP_Y + 9, col.groups, col.colors);

  yLabel(x0 - 29, TOP_Y + PH / 2, [['\u03b1 (cm'], ['2', -5, '9.5px'], ['g', 5], ['-1', -5, '9.5px'], [')', 5]]);
  yLabel(x0 - 17, MID_Y + PH / 2, [['\u03b1 (SNV)']]);
  yLabel(bx0 - 30, BOT_Y + PH / 2, [['\u03b1 (detrended)']]);

  xLabel(x0 + PW / 2, 496);
  xLabel(bx0 + bw / 2, 776);

  var lx = [10, 358, 713][ci];
  bold(lx, 28, col.letters[0], '25px');
  bold(lx - 2, 280, col.letters[1], '25px');
  bold(lx - 2, 540, col.letters[2], '25px');
  svg.append('text').attr('x', col.tx).attr('y', 26).text(col.title)
    .attr('text-anchor', 'middle').attr('fill', '#000')
    .style('font-family', FONT).style('font-weight', 'bold').style('font-size', '26px');
});
</script>
</body>
</html>
